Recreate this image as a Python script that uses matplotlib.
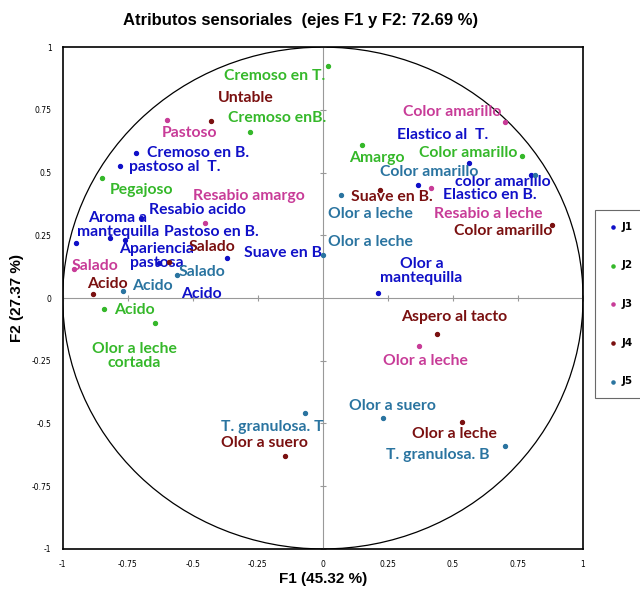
import numpy as np
import matplotlib
matplotlib.use("Agg")
import matplotlib.pyplot as plt
from matplotlib.patches import Ellipse

### Data: variable coordinates on F1 / F2 for each judge
j1_labels = ["Elastico al  T.", "color amarillo", "Elastico en B.", "Cremoso en B.", "pastoso al  T.",
             "Aroma a\nmantequilla", "Resabio acido", "Pastoso en B.", "Apariencia\npastosa",
             "Suave en B.", "Acido", "Olor a\nmantequilla"]
j1_f1 = [0.56, 0.80, 0.365, -0.72, -0.78, -0.95, -0.70, -0.76, -0.82, -0.37, -0.63, 0.21]
j1_f2 = [0.54, 0.49, 0.45, 0.58, 0.525, 0.22, 0.32, 0.23, 0.24, 0.16, 0.14, 0.02]

j2_labels = ["Cremoso en T.", "Cremoso enB.", "Amargo", "Color amarillo", "Pegajoso", "Acido",
             "Olor a leche\ncortada"]
j2_f1 = [0.02, -0.28, 0.15, 0.765, -0.85, -0.84, -0.645]
j2_f2 = [0.925, 0.66, 0.61, 0.565, 0.48, -0.045, -0.10]

j3_labels = ["Color amarillo", "Pastoso", "Resabio amargo", "Resabio a leche", "Salado", "Olor a leche"]
j3_f1 = [0.70, -0.60, -0.455, 0.415, -0.955, 0.37]
j3_f2 = [0.70, 0.71, 0.30, 0.44, 0.115, -0.19]

j4_labels = ["Untable", "Suave en B.", "Color amarillo", "Salado", "Acido", "Aspero al tacto",
             "Olor a suero", "Olor a leche"]
j4_f1 = [-0.43, 0.22, 0.88, -0.59, -0.885, 0.44, -0.145, 0.535]
j4_f2 = [0.705, 0.43, 0.29, 0.145, 0.015, -0.145, -0.63, -0.495]

j5_labels = ["Color amarillo", "Olor a leche", "Olor a leche", "Salado", "Acido", "Olor a suero",
             "T. granulosa. B", "T. granulosa. T"]
j5_f1 = [0.815, 0.07, 0.0, -0.56, -0.77, 0.23, 0.70, -0.07]
j5_f2 = [0.49, 0.41, 0.17, 0.09, 0.03, -0.48, -0.59, -0.46]

ticks = [-1, -0.75, -0.5, -0.25, 0, 0.25, 0.5, 0.75, 1]
tick_labels = ["-1", "-0.75", "-0.5", "-0.25", "0", "0.25", "0.5", "0.75", "1"]

### Label placement (pixel offsets from each point)
j1_off = [(-26, 28), (-28, -7), (72, -10), (62, 0), (55, -1), (42, 18), (57, 8), (86, 8),
          (47, -18), (58, 5), (42, -31), (44, 22)]
j2_off = [(-53, -10), (27, 14), (15, -13), (-54, 3), (40, -12), (30, -1), (-21, -33)]
j3_off = [(-53, 10), (23, -13), (44, 27), (57, -26), (21, 3), (6, -15)]
j4_off = [(35, 23), (12, -7), (-49, -6), (43, 15), (15, 10), (17, 17), (-21, 13), (-8, -12)]
j5_off = [(-106, 3), (29, -19), (48, 13), (25, 3), (30, 5), (10, 12), (-67, -9), (-32, -14)]

judges = [("J1", j1_labels, j1_f1, j1_f2, j1_off, "#1010c8"),
          ("J2", j2_labels, j2_f1, j2_f2, j2_off, "#35b82a"),
          ("J3", j3_labels, j3_f1, j3_f2, j3_off, "#c83c98"),
          ("J4", j4_labels, j4_f1, j4_f2, j4_off, "#7a1010"),
          ("J5", j5_labels, j5_f1, j5_f2, j5_off, "#2a74a0")]

label_font = ["Lato", "DejaVu Sans"]
title_font = ["Liberation Sans Narrow", "Liberation Sans", "DejaVu Sans"]

fig = plt.figure(figsize=(6.4, 5.89), dpi=100)
ax = fig.add_axes([0.098, 0.068, 0.813, 0.852])

### Correlation circle and axes through origin
ax.add_patch(Ellipse((0, 0), 2, 2, fill=False, color="black", lw=0.9))
ax.axhline(0, color="#999999", lw=0.8)
ax.axvline(0, color="#999999", lw=0.8)
tk = [t for t in ticks if t != 0]
ax.scatter(tk, [0] * len(tk), marker="|", s=25, color="#999999", lw=0.8)
ax.scatter([0] * len(tk), tk, marker="_", s=25, color="#999999", lw=0.8)

for name, labels, fx, fy, offs, col in judges:
    ax.scatter(fx, fy, s=8, color=col, label=name, zorder=3)
    for lab, x, y, off in zip(labels, fx, fy, offs):
        ax.annotate(lab, (x, y), xytext=off, textcoords="offset pixels",
                    ha="center", va="center", color=col, fontsize=11.3,
                    fontweight="bold", family=label_font, linespacing=0.95)

ax.set_xlim(-1, 1)
ax.set_ylim(-1, 1)
ax.set_xticks(ticks)
ax.set_xticklabels(tick_labels)
ax.set_yticks(ticks)
ax.set_yticklabels(tick_labels)
ax.tick_params(length=0, labelsize=5.5, pad=8)
for sp in ax.spines.values():
    sp.set_linewidth(1.2)

ax.set_xlabel("F1 (45.32 %)", fontsize=11, fontweight="bold", family=title_font, labelpad=2)
ax.set_ylabel("F2 (27.37 %)", fontsize=11, fontweight="bold", family=title_font, labelpad=6)
fig.text(0.47, 0.965, "Atributos sensoriales  (ejes F1 y F2: 72.69 %)", ha="center", va="center",
         fontsize=12, fontweight="bold", family=title_font)

leg = fig.legend(loc="upper left", bbox_to_anchor=(590 / 640, 1 - 205 / 589), frameon=True,
                 fancybox=False, edgecolor="#444444", labelspacing=2.75,
                 handletextpad=0.2, borderpad=1.1, handlelength=1.2, markerscale=0.8,
                 prop={"weight": "bold", "size": 7.5})
leg.get_frame().set_linewidth(0.8)

fig.savefig("out.png", dpi=100)
